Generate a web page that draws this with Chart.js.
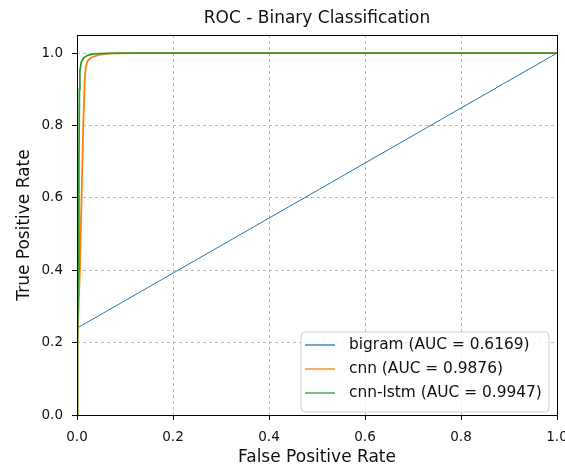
<!DOCTYPE html>
<html>
<head>
<meta charset="utf-8">
<script src="https://cdn.jsdelivr.net/npm/chart.js@4/dist/chart.umd.min.js"></script>
<style>
  html, body { margin: 0; padding: 0; background: #fff; }
  canvas { display: block; }
</style>
</head>
<body>
<canvas id="roc" width="565" height="468"></canvas>
<script>
const chartTitle = "ROC - Binary Classification";
const xTitle = "False Positive Rate";
const yTitle = "True Positive Rate";
const xTicks = [0, 0.2, 0.4, 0.6, 0.8, 1.0];
const yTicks = [0, 0.2, 0.4, 0.6, 0.8, 1.0];

const seriesNames = ["bigram (AUC = 0.6169)", "cnn (AUC = 0.9876)", "cnn-lstm (AUC = 0.9947)"];
const seriesColors = ["#1f77b4", "#ff7f0e", "#2ca02c"];

const bigramFpr = [0, 0, 0.2, 0.5, 0.73, 1];
const bigramTpr = [0, 0.24, 0.392, 0.62, 0.795, 1];
const cnnFpr = [0, 0.0005, 0.002, 0.006, 0.0095, 0.013, 0.016, 0.018, 0.022, 0.03, 0.045, 0.07, 0.12, 1];
const cnnTpr = [0, 0.1, 0.22, 0.4, 0.6, 0.8, 0.92, 0.96, 0.978, 0.988, 0.995, 0.999, 1, 1];
const lstmFpr = [0, 0.001, 0.003, 0.004, 0.005, 0.006, 0.009, 0.014, 0.022, 0.035, 0.06, 0.1, 1];
const lstmTpr = [0, 0.2, 0.4, 0.7, 0.9, 0.95, 0.975, 0.987, 0.994, 0.998, 0.9995, 1, 1];

const toPoints = (xs, ys) => xs.map((x, i) => ({ x, y: ys[i] }));

const FONT = "'DejaVu Sans', sans-serif";

// title, frame and legend drawn by hand (matplotlib style)
const mplExtras = {
  id: "mplExtras",
  afterDraw(chart) {
    const { ctx, chartArea: a } = chart;
    ctx.save();
    ctx.strokeStyle = "#000";
    ctx.lineWidth = 1;
    ctx.strokeRect(a.left + 0.5, a.top + 0.5, a.right - a.left, a.bottom - a.top);

    ctx.fillStyle = "#111";
    ctx.font = "17px " + FONT;
    ctx.textAlign = "center";
    ctx.textBaseline = "middle";
    ctx.fillText(chartTitle, (a.left + a.right) / 2, 19);

    // legend box
    const bx = 301, by = 332, bw = 248, bh = 80, r = 4;
    ctx.beginPath();
    ctx.moveTo(bx + r, by);
    ctx.arcTo(bx + bw, by, bx + bw, by + bh, r);
    ctx.arcTo(bx + bw, by + bh, bx, by + bh, r);
    ctx.arcTo(bx, by + bh, bx, by, r);
    ctx.arcTo(bx, by, bx + bw, by, r);
    ctx.closePath();
    ctx.fillStyle = "rgba(255,255,255,0.8)";
    ctx.fill();
    ctx.strokeStyle = "#d0d0d0";
    ctx.stroke();

    ctx.font = "15.4px " + FONT;
    ctx.textAlign = "left";
    chart.data.datasets.forEach((ds, i) => {
      const y = 345 + i * 24;
      ctx.strokeStyle = ds.borderColor;
      ctx.lineWidth = 1.3;
      ctx.beginPath();
      ctx.moveTo(305, y);
      ctx.lineTo(335, y);
      ctx.stroke();
      ctx.fillStyle = "#111";
      ctx.fillText(ds.label, 349, y);
    });
    ctx.restore();
  }
};

const datasets = [
  toPoints(bigramFpr, bigramTpr),
  toPoints(cnnFpr, cnnTpr),
  toPoints(lstmFpr, lstmTpr)
].map((pts, i) => ({
  label: seriesNames[i],
  data: pts,
  borderColor: seriesColors[i],
  backgroundColor: seriesColors[i],
  borderWidth: i === 0 ? 1 : 1.8,
  showLine: true,
  pointRadius: 0,
  tension: 0,
  order: 3 - i
}));

const gridOpts = {
  color: "#b8b8b8",
  lineWidth: 1,
  tickColor: "#000",
  tickLength: 5,
  tickWidth: 1
};

new Chart(document.getElementById("roc"), {
  type: "scatter",
  data: { datasets },
  plugins: [mplExtras],
  options: {
    responsive: false,
    animation: false,
    layout: { padding: { top: 35, right: 8, left: 0, bottom: 0 } },
    plugins: {
      legend: { display: false },
      tooltip: { enabled: false },
      title: { display: false }
    },
    scales: {
      x: {
        type: "linear",
        min: 0, max: 1,
        afterBuildTicks: s => { s.ticks = xTicks.map(v => ({ value: v })); },
        afterFit: s => { s.height = 53; s.paddingLeft = 0; s.paddingRight = 0; },
        grid: gridOpts,
        border: { display: false, dash: [3, 3] },
        ticks: {
          autoSkip: false, maxRotation: 0, padding: 9,
          color: "#111", font: { family: FONT, size: 13.5 },
          callback: v => v.toFixed(1)
        },
        title: {
          display: true, text: xTitle, color: "#111",
          font: { family: FONT, size: 17 }, padding: { top: 0, bottom: 0 }
        }
      },
      y: {
        type: "linear",
        min: 0, max: 1.05,
        afterBuildTicks: s => { s.ticks = yTicks.map(v => ({ value: v })); },
        afterFit: s => { s.width = 77; s.paddingTop = 0; s.paddingBottom = 0; },
        grid: gridOpts,
        border: { display: false, dash: [3, 3] },
        ticks: {
          autoSkip: false, padding: 9,
          color: "#111", font: { family: FONT, size: 13.5 },
          callback: v => v.toFixed(1)
        },
        title: {
          display: true, text: yTitle, color: "#111",
          font: { family: FONT, size: 17 }, padding: { top: 14, bottom: 0 }
        }
      }
    }
  }
});
</script>
</body>
</html>
